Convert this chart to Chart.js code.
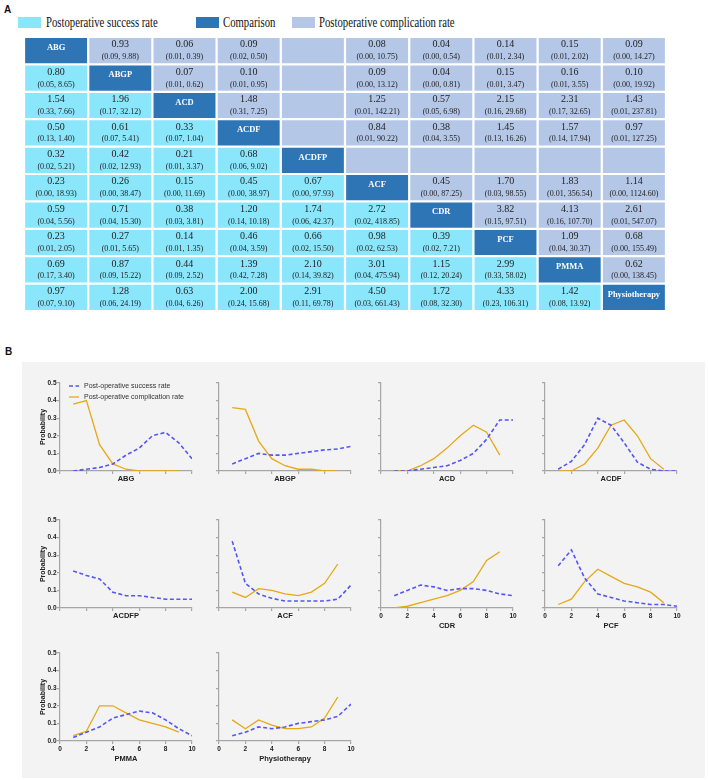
<!DOCTYPE html>
<html lang="en">
<head>
<meta charset="UTF-8" />
<title>League table and rank probabilities</title>
<script src="https://cdn.jsdelivr.net/npm/chart.js"></script>
<style>
  body { margin: 0; background: #fff; width: 708px; height: 780px; position: relative; overflow: hidden; font-family: "Liberation Serif", "Times New Roman", serif; }
  .panel-label { position: absolute; font: bold 10px "Liberation Sans", Arial, sans-serif; color: #111; }
  .key { position: absolute; top: 17px; width: 23px; height: 11px; }
  .key-text { position: absolute; top: 14px; font-size: 14px; line-height: 17px; white-space: nowrap; color: #111; transform-origin: left center; transform: scaleX(0.765); }
  #panelB { position: absolute; left: 22px; top: 362px; width: 683px; height: 416px; background: #f3f3f3; }
  .box { position: absolute; }
</style>
</head>
<body>
  <div class="panel-label" style="left:4px;top:4px">A</div>
  <div class="key" style="left:18px;background:#8ae6fb"></div>
  <div class="key-text" style="left:46px">Postoperative success rate</div>
  <div class="key" style="left:196px;background:#2e75b6"></div>
  <div class="key-text" style="left:223px">Comparison</div>
  <div class="key" style="left:292px;background:#b4c7e7"></div>
  <div class="key-text" style="left:319px">Postoperative complication rate</div>

  <div class="box" style="left:24px;top:37px"><canvas id="league" width="642" height="274"></canvas></div>

  <div id="panelB"></div>
  <div class="panel-label" style="left:5px;top:346px">B</div>
  <div id="charts"></div>

<script>
  const methods = ['ABG', 'ABGP', 'ACD', 'ACDF', 'ACDFP', 'ACF', 'CDR', 'PCF', 'PMMA', 'Physiotherapy'];

  // league table: null = diagonal, '' = no comparison
  const league = [
    [null, '0.93 (0.09, 9.88)', '0.06 (0.01, 0.39)', '0.09 (0.02, 0.50)', '', '0.08 (0.00, 10.75)', '0.04 (0.00, 0.54)', '0.14 (0.01, 2.34)', '0.15 (0.01, 2.02)', '0.09 (0.00, 14.27)'],
    ['0.80 (0.05, 8.65)', null, '0.07 (0.01, 0.62)', '0.10 (0.01, 0.95)', '', '0.09 (0.00, 13.12)', '0.04 (0.00, 0.81)', '0.15 (0.01, 3.47)', '0.16 (0.01, 3.55)', '0.10 (0.00, 19.92)'],
    ['1.54 (0.33, 7.66)', '1.96 (0.17, 32.12)', null, '1.48 (0.31, 7.25)', '', '1.25 (0.01, 142.21)', '0.57 (0.05, 6.98)', '2.15 (0.16, 29.68)', '2.31 (0.17, 32.65)', '1.43 (0.01, 237.81)'],
    ['0.50 (0.13, 1.40)', '0.61 (0.07, 5.41)', '0.33 (0.07, 1.04)', null, '', '0.84 (0.01, 90.22)', '0.38 (0.04, 3.55)', '1.45 (0.13, 16.26)', '1.57 (0.14, 17.94)', '0.97 (0.01, 127.25)'],
    ['0.32 (0.02, 5.21)', '0.42 (0.02, 12.93)', '0.21 (0.01, 3.37)', '0.68 (0.06, 9.02)', null, '', '', '', '', ''],
    ['0.23 (0.00, 18.93)', '0.26 (0.00, 38.47)', '0.15 (0.00, 11.69)', '0.45 (0.00, 38.97)', '0.67 (0.00, 97.93)', null, '0.45 (0.00, 87.25)', '1.70 (0.03, 98.55)', '1.83 (0.01, 356.54)', '1.14 (0.00, 1124.60)'],
    ['0.59 (0.04, 5.56)', '0.71 (0.04, 15.30)', '0.38 (0.03, 3.81)', '1.20 (0.14, 10.18)', '1.74 (0.06, 42.37)', '2.72 (0.02, 418.85)', null, '3.82 (0.15, 97.51)', '4.13 (0.16, 107.70)', '2.61 (0.01, 547.07)'],
    ['0.23 (0.01, 2.05)', '0.27 (0.01, 5.65)', '0.14 (0.01, 1.35)', '0.46 (0.04, 3.59)', '0.66 (0.02, 15.50)', '0.98 (0.02, 62.53)', '0.39 (0.02, 7.21)', null, '1.09 (0.04, 30.37)', '0.68 (0.00, 155.49)'],
    ['0.69 (0.17, 3.40)', '0.87 (0.09, 15.22)', '0.44 (0.09, 2.52)', '1.39 (0.42, 7.28)', '2.10 (0.14, 39.82)', '3.01 (0.04, 475.94)', '1.15 (0.12, 20.24)', '2.99 (0.33, 58.02)', null, '0.62 (0.00, 138.45)'],
    ['0.97 (0.07, 9.10)', '1.28 (0.06, 24.19)', '0.63 (0.04, 6.26)', '2.00 (0.24, 15.68)', '2.91 (0.11, 69.78)', '4.50 (0.03, 661.43)', '1.72 (0.08, 32.30)', '4.33 (0.23, 106.31)', '1.42 (0.08, 13.92)', null]
  ];

  // rank probabilities (rank 1..10)
  const ranks = [1, 2, 3, 4, 5, 6, 7, 8, 9, 10];
  const yTicks = [0, 0.1, 0.2, 0.3, 0.4, 0.5];

  const ABG_success = [0.00, 0.01, 0.02, 0.04, 0.09, 0.13, 0.20, 0.22, 0.16, 0.07];
  const ABG_complication = [0.38, 0.40, 0.15, 0.04, 0.01, 0.00, 0.00, 0.00, 0.00];
  const ABGP_success = [0.04, 0.07, 0.10, 0.09, 0.09, 0.10, 0.11, 0.12, 0.125, 0.14];
  const ABGP_complication = [0.36, 0.35, 0.17, 0.07, 0.03, 0.01, 0.01, 0.00, 0.00];
  const ACD_success = [0.00, 0.00, 0.01, 0.02, 0.03, 0.06, 0.10, 0.18, 0.29, 0.29];
  const ACD_complication = [0.00, 0.00, 0.03, 0.07, 0.13, 0.20, 0.26, 0.22, 0.09];
  const ACDF_success = [0.01, 0.055, 0.15, 0.30, 0.26, 0.16, 0.05, 0.01, 0.00, 0.00];
  const ACDF_complication = [0.00, 0.00, 0.04, 0.13, 0.26, 0.29, 0.20, 0.07, 0.01];
  const ACDFP_success = [0.21, 0.185, 0.165, 0.09, 0.07, 0.07, 0.06, 0.05, 0.05, 0.05];
  const ACF_success = [0.38, 0.14, 0.08, 0.055, 0.04, 0.04, 0.04, 0.04, 0.05, 0.13];
  const ACF_complication = [0.09, 0.06, 0.11, 0.10, 0.08, 0.07, 0.09, 0.14, 0.25];
  const CDR_success = [0.07, 0.10, 0.13, 0.12, 0.10, 0.11, 0.11, 0.10, 0.08, 0.07];
  const CDR_complication = [0.00, 0.01, 0.03, 0.05, 0.07, 0.10, 0.15, 0.27, 0.32];
  const PCF_success = [0.24, 0.33, 0.17, 0.08, 0.06, 0.04, 0.03, 0.02, 0.02, 0.01];
  const PCF_complication = [0.02, 0.05, 0.15, 0.22, 0.18, 0.14, 0.12, 0.09, 0.03];
  const PMMA_success = [0.02, 0.05, 0.08, 0.13, 0.15, 0.17, 0.16, 0.12, 0.07, 0.03];
  const PMMA_complication = [0.03, 0.055, 0.20, 0.20, 0.16, 0.12, 0.10, 0.08, 0.05];
  const Physio_success = [0.03, 0.05, 0.08, 0.07, 0.08, 0.10, 0.11, 0.12, 0.14, 0.21];
  const Physio_complication = [0.12, 0.07, 0.12, 0.09, 0.07, 0.07, 0.08, 0.13, 0.25];

  const panels = [
    ['ABG', ABG_success, ABG_complication],
    ['ABGP', ABGP_success, ABGP_complication],
    ['ACD', ACD_success, ACD_complication],
    ['ACDF', ACDF_success, ACDF_complication],
    ['ACDFP', ACDFP_success, null],
    ['ACF', ACF_success, ACF_complication],
    ['CDR', CDR_success, CDR_complication],
    ['PCF', PCF_success, PCF_complication],
    ['PMMA', PMMA_success, PMMA_complication],
    ['Physiotherapy', Physio_success, Physio_complication]
  ];

  const colSuccess = '#8ae6fb';
  const colDiag = '#2e75b6';
  const colComplication = '#b4c7e7';
  const blue = '#5656f8';
  const orange = '#e6a817';
  const axisGray = '#a6a6a6';
  const sans = '"Liberation Sans", Arial, sans-serif';

  // ---- panel A: league table drawn as floating bars ----
  const leagueText = {
    id: 'leagueText',
    afterDatasetsDraw(chart) {
      const { ctx, scales: { x, y } } = chart;
      ctx.save();
      ctx.textAlign = 'center';
      ctx.textBaseline = 'middle';
      league.forEach((row, r) => row.forEach((cell, c) => {
        const cx = x.getPixelForValue(c);
        const cy = y.getPixelForValue(r + 0.5);
        if (cell === null) {
          ctx.fillStyle = '#fff';
          ctx.font = 'bold 8.5px "Liberation Serif", serif';
          ctx.fillText(methods[r], cx, cy - 3);
        } else if (cell) {
          const k = cell.indexOf(' ');
          ctx.fillStyle = '#222';
          ctx.font = '10px "Liberation Serif", serif';
          ctx.fillText(cell.slice(0, k), cx, cy - 6);
          ctx.font = '8px "Liberation Serif", serif';
          ctx.fillText(cell.slice(k + 1), cx, cy + 6.5);
        }
      }));
      ctx.restore();
    }
  };

  new Chart(document.getElementById('league'), {
    type: 'bar',
    data: {
      labels: methods,
      datasets: methods.map((m, r) => ({
        data: methods.map(() => [r + 0.04, r + 0.96]),
        backgroundColor: methods.map((_, c) => c === r ? colDiag : (c < r ? colSuccess : colComplication)),
        grouped: false,
        barPercentage: 1,
        categoryPercentage: 0.965
      }))
    },
    options: {
      responsive: false,
      animation: false,
      events: [],
      layout: { padding: 0 },
      plugins: { legend: { display: false }, tooltip: { enabled: false } },
      scales: {
        x: { display: false },
        y: { display: false, min: 0, max: 10, reverse: true }
      }
    },
    plugins: [leagueText]
  });

  // ---- panel B: rank probability curves ----
  const innerLegend = {
    id: 'innerLegend',
    afterDraw(chart, args, opts) {
      if (!opts.show) return;
      const { ctx, chartArea } = chart;
      ctx.save();
      ctx.font = '7px ' + sans;
      ctx.textBaseline = 'middle';
      chart.data.datasets.forEach((ds, i) => {
        const x = chartArea.left + 9;
        const y = chartArea.top + 3 + i * 11;
        ctx.strokeStyle = ds.borderColor;
        ctx.lineWidth = ds.borderWidth;
        ctx.setLineDash(ds.borderDash || []);
        ctx.beginPath();
        ctx.moveTo(x, y);
        ctx.lineTo(x + 10, y);
        ctx.stroke();
        ctx.setLineDash([]);
        ctx.fillStyle = '#333';
        ctx.fillText(ds.label, x + 15, y);
      });
      ctx.restore();
    }
  };

  const colLeft = [60, 219, 381, 545];
  const rowTop = [383, 520, 653];
  const holder = document.getElementById('charts');

  panels.forEach(([name, success, complication], i) => {
    const col = i % 4, row = Math.floor(i / 4);
    const showX = i + 4 >= panels.length;
    const wrap = document.createElement('div');
    wrap.className = 'box';
    wrap.style.left = (colLeft[col] - 40) + 'px';
    wrap.style.top = (rowTop[row] - 6) + 'px';
    const cv = document.createElement('canvas');
    cv.width = 180;
    cv.height = 124;
    wrap.appendChild(cv);
    holder.appendChild(wrap);

    const datasets = [{
      label: 'Post-operative success rate',
      data: success,
      borderColor: blue,
      borderWidth: 1.6,
      borderDash: [4, 2.5]
    }];
    if (complication) datasets.push({
      label: 'Post-operative complication rate',
      data: complication,
      borderColor: orange,
      borderWidth: 1.3
    });

    new Chart(cv, {
      type: 'line',
      data: { labels: ranks, datasets },
      options: {
        responsive: false,
        animation: false,
        events: [],
        layout: { padding: { top: 6, right: 8, left: 0, bottom: 0 } },
        elements: { point: { radius: 0 }, line: { tension: 0, fill: false } },
        plugins: {
          legend: { display: false },
          tooltip: { enabled: false },
          innerLegend: { show: i === 0 }
        },
        scales: {
          x: {
            type: 'linear', min: 0, max: 10,
            afterFit: s => { s.height = 30; },
            border: { color: axisGray, width: 1.2 },
            grid: { drawOnChartArea: false, drawTicks: true, tickLength: 3, color: axisGray, lineWidth: 1.2 },
            ticks: { display: showX, stepSize: 2, padding: 1, color: '#222', font: { family: sans, size: 6.5, weight: 'bold' } },
            title: {
              display: true, text: name, color: '#222',
              font: { family: sans, size: 7.5, weight: 'bold' },
              padding: { top: 0, bottom: showX ? 7.5 : 17.5 }
            }
          },
          y: {
            min: 0, max: 0.5,
            afterFit: s => { s.width = 40; },
            afterBuildTicks: s => { s.ticks = yTicks.map(v => ({ value: v })); },
            border: { color: axisGray, width: 1.2 },
            grid: { drawOnChartArea: false, drawTicks: true, tickLength: 3, color: axisGray, lineWidth: 1.2 },
            ticks: { display: col === 0, padding: 0.5, color: '#222', font: { family: sans, size: 6.5, weight: 'bold' }, callback: v => v.toFixed(1) },
            title: {
              display: col === 0, text: 'Probability', color: '#222',
              font: { family: sans, size: 7, weight: 'bold' },
              padding: { top: 18.8, bottom: 0 }
            }
          }
        }
      },
      plugins: [innerLegend]
    });
  });
</script>
</body>
</html>
